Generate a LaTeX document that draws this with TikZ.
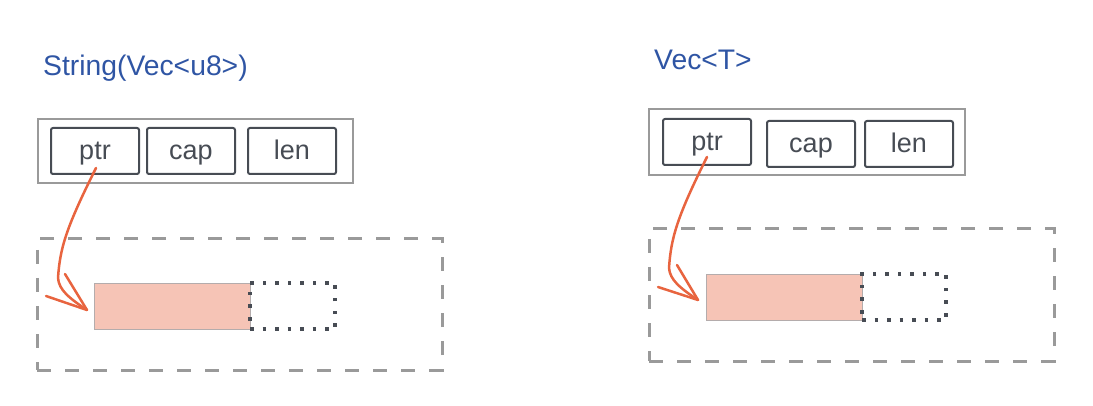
\documentclass[tikz,border=0pt]{standalone}
\usepackage{fontspec}
\setmainfont{Liberation Sans}
\usetikzlibrary{calc}
\definecolor{titleblue}{HTML}{2F55A4}
\definecolor{boxdark}{HTML}{474C54}
\definecolor{boxgray}{HTML}{9A9A9A}
\definecolor{pinkfill}{HTML}{F6C4B6}
\definecolor{pinkline}{HTML}{B4ACAC}
\definecolor{arrowred}{HTML}{E8643F}
\begin{document}
\begin{tikzpicture}[x=1pt,y=-1pt,
  titletext/.style={anchor=base west,inner sep=0pt,text=titleblue,font=\fontsize{28.3}{30}\selectfont},
  outerbox/.style={draw=boxgray,line width=2pt,minimum width=#1,minimum height=64pt,inner sep=0pt,outer sep=0pt},
  field/.style={draw=boxdark,line width=2pt,rounded corners=2pt,minimum width=88pt,minimum height=46pt,inner sep=0pt,outer sep=0pt,text=boxdark,font=\fontsize{27}{29}\selectfont,text height=20pt,text depth=2pt},
  heapbox/.style={draw=boxgray,line width=3pt,dash pattern=on 14pt off 14pt,minimum width=405pt,minimum height=131pt,inner sep=0pt,outer sep=0pt},
  used/.style={draw=pinkline,line width=0.8pt,fill=pinkfill,minimum width=156pt,minimum height=46pt,inner sep=0pt,outer sep=0pt},
  spare/.style={draw=boxdark,line width=3.5pt,dash pattern=on 3.5pt off 9pt,minimum width=85pt,minimum height=46pt,inner sep=0pt,outer sep=0pt},
  ptrarrow/.style={draw=arrowred,line width=2.5pt,line cap=round,line join=round}
]
\useasboundingbox (0,0) rectangle (1093,406);

% ---------- left: String(Vec<u8>) ----------
\node[titletext] (title1) at (43,76) {String(Vec<u8>)};
\node[outerbox=315pt] (outer1) at (195.5,151.5) {};
\node[field] (ptr1) at (95,151) {ptr};
\node[field] (cap1) at (191,151) {cap};
\node[field] (len1) at (292,151) {len};
\node[heapbox] (heap1) at (239.5,304.5) {};
\node[used] (pink1) at (172,306) {};
\node[spare] (dot1) at (292.5,306) {};
\coordinate (s1) at ($(ptr1.south)+(1,-6)$);
\coordinate (t1) at ($(pink1.west)+(-7,4)$);
\coordinate (m1) at ($(t1)+(-29,-32)$);
\draw[ptrarrow] (s1) .. controls +(-30,60) and +(2,-30) .. (m1)
                     .. controls +(1,12) and +(-18,-12) .. (t1);
\draw[ptrarrow] (t1) ++(-22,-36) -- (t1) -- ++(-41,-14);

% ---------- right: Vec<T> ----------
\node[titletext] (title2) at (654,70) {Vec<T>};
\node[outerbox=316pt,minimum height=66pt] (outer2) at (807,142) {};
\node[field] (ptr2) at (707,142) {ptr};
\node[field] (cap2) at (811,144) {cap};
\node[field] (len2) at (909,144) {len};
\node[heapbox,minimum height=132pt] (heap2) at (851.5,295) {};
\node[used] (pink2) at (784,297) {};
\node[spare,minimum width=84pt] (dot2) at (904,297) {};
\coordinate (s2) at ($(ptr2.south)+(0,-8)$);
\coordinate (t2) at ($(pink2.west)+(-8,3)$);
\coordinate (m2) at ($(t2)+(-29,-32)$);
\draw[ptrarrow] (s2) .. controls +(-30,60) and +(2,-30) .. (m2)
                     .. controls +(1,12) and +(-18,-12) .. (t2);
\draw[ptrarrow] (t2) ++(-21,-35) -- (t2) -- ++(-40,-13);
\end{tikzpicture}
\end{document}
